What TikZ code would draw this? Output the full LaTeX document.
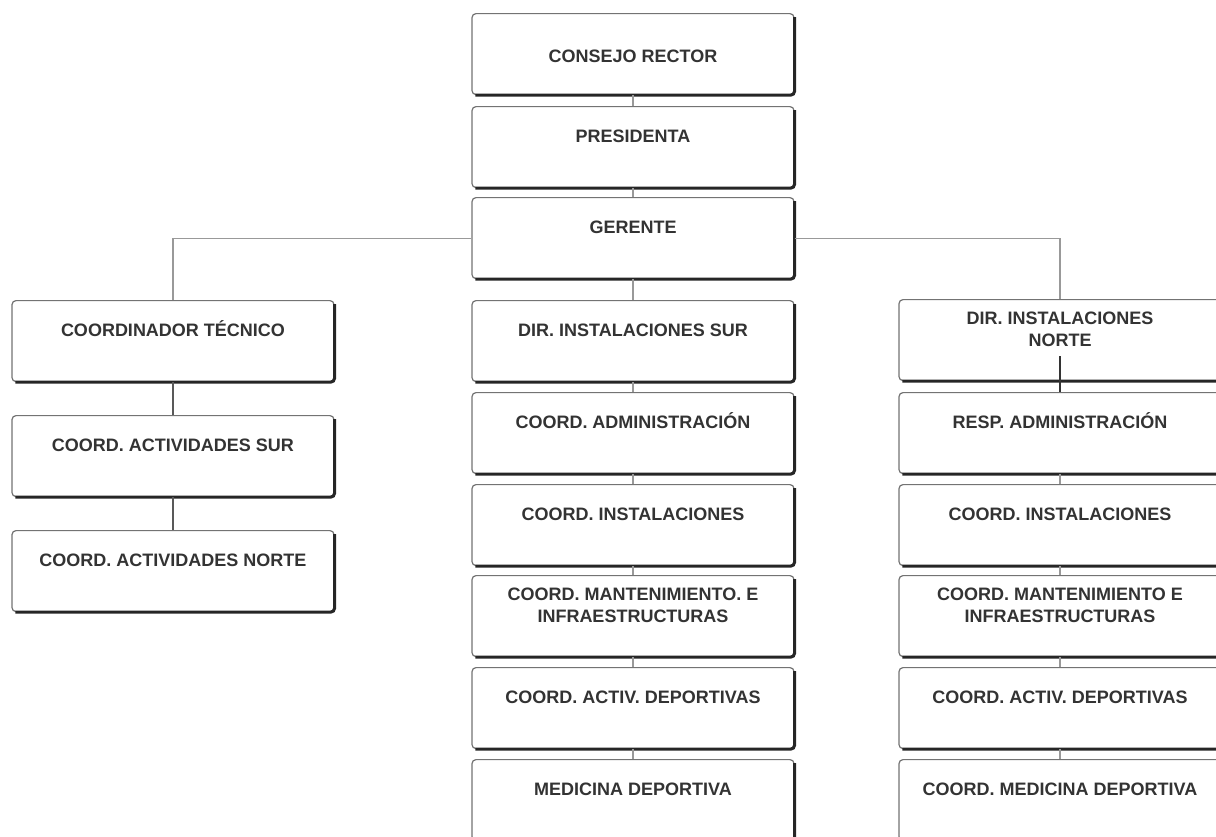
\documentclass[tikz,border=0pt]{standalone}
\usepackage{fontspec}
\setmainfont{Liberation Sans}

\tikzset{
  orgbox/.style={draw=black!55, line width=0.6pt, rounded corners=2pt, fill=white,
    minimum width=161pt, minimum height=40.5pt, inner xsep=2pt, inner ysep=0pt,
    text height=18pt, text depth=22.5pt, anchor=north, align=center, text=black!80,
    font=\bfseries\fontsize{9}{11}\selectfont,
    append after command={([yshift=-2pt]\tikzlastnode.north east) edge[boxshade] ([xshift=2pt]\tikzlastnode.south west)}},
  boxshade/.style={draw=black!85, line width=1.5pt, rounded corners=2pt, to path={|- (\tikztotarget)}},
  twoline/.style={text height=23.5pt, text depth=17pt},
  link/.style={draw=black!40, line width=0.6pt},
}

\begin{document}
\begin{tikzpicture}[x=0.5pt, y=-0.5pt]
    \path[use as bounding box, clip] (0,0) rectangle (1216,836);

    % direccion
    \node[orgbox, text height=24.5pt, text depth=16pt] (cr) at (633,13) {CONSEJO RECTOR};
    \node[orgbox] (pr) at (633,106) {PRESIDENTA};
    \node[orgbox] (ge) at (633,197) {GERENTE};

    % rama tecnica
    \node[orgbox] (ct) at (173,300) {COORDINADOR TÉCNICO};
    \node[orgbox] (cas) at (173,415) {COORD. ACTIVIDADES SUR};
    \node[orgbox] (can) at (173,530) {COORD. ACTIVIDADES NORTE};

    % instalaciones sur
    \node[orgbox] (ds) at (633,300) {DIR. INSTALACIONES SUR};
    \node[orgbox] (sadm) at (633,392) {COORD. ADMINISTRACIÓN};
    \node[orgbox] (sins) at (633,484) {COORD. INSTALACIONES};
    \node[orgbox, twoline] (sman) at (633,575) {COORD. MANTENIMIENTO. E\\INFRAESTRUCTURAS};
    \node[orgbox] (sact) at (633,667) {COORD. ACTIV. DEPORTIVAS};
    \node[orgbox] (smed) at (633,759) {MEDICINA DEPORTIVA};

    % instalaciones norte
    \node[orgbox, twoline] (dn) at (1060,299) {DIR. INSTALACIONES\\NORTE};
    \node[orgbox] (nadm) at (1060,392) {RESP. ADMINISTRACIÓN};
    \node[orgbox] (nins) at (1060,484) {COORD. INSTALACIONES};
    \node[orgbox, twoline] (nman) at (1060,575) {COORD. MANTENIMIENTO E\\INFRAESTRUCTURAS};
    \node[orgbox] (nact) at (1060,667) {COORD. ACTIV. DEPORTIVAS};
    \node[orgbox] (nmed) at (1060,759) {COORD. MEDICINA DEPORTIVA};

    % lineas
    \draw[link] (cr) -- (pr);
    \draw[link] (pr) -- (ge);
    \draw[link] (ge.west) -| (ct.north);
    \draw[link] (ge.east) -| (dn.north);
    \draw[link] (ge) -- (ds);
    \draw[link, draw=black!65] (ct) -- (cas);
    \draw[link, draw=black!65] (cas) -- (can);
    \draw[link] (ds) -- (sadm);
    \draw[link] (sadm) -- (sins);
    \draw[link] (sins) -- (sman);
    \draw[link] (sman) -- (sact);
    \draw[link] (sact) -- (smed);
    \coordinate (dn-stub) at ([yshift=12.5pt]dn.south);
    \draw[link, draw=black!80] (dn-stub) -- (nadm);
    \draw[link] (nadm) -- (nins);
    \draw[link] (nins) -- (nman);
    \draw[link] (nman) -- (nact);
    \draw[link] (nact) -- (nmed);
\end{tikzpicture}
\end{document}
